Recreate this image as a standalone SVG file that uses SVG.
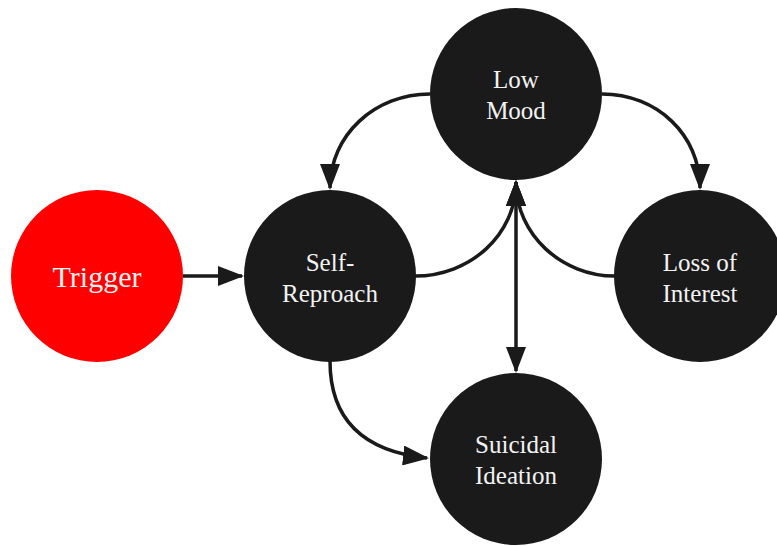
<svg xmlns="http://www.w3.org/2000/svg" width="777" height="546" viewBox="0 0 777 546">
<style>
.node{fill:#1a1a1a}
.trig{fill:#ff0000}
.lbl{font-family:"Liberation Serif","DejaVu Serif",serif;font-size:25px;fill:#f2f2f2;text-anchor:middle}
.edge{fill:none;stroke:#1a1a1a;stroke-width:3.5}
</style>
<defs>
<marker id="ah" markerUnits="userSpaceOnUse" markerWidth="26" markerHeight="20" viewBox="0 0 26 20" refX="24" refY="10" orient="auto-start-reverse">
<path d="M0,0 L26,10 L0,20 z" fill="#1a1a1a"/>
</marker>
</defs>
<rect width="777" height="546" fill="#ffffff"/>
<g id="connectors">
<path class="edge" d="M183,276 L242,276" marker-end="url(#ah)"/>
<path class="edge" d="M430,94 C375,94 330,135 330,188" marker-end="url(#ah)"/>
<path class="edge" d="M602,94 C657,94 700,135 700,188" marker-end="url(#ah)"/>
<path class="edge" d="M415,276 C470,276 516,235 516,182" marker-end="url(#ah)"/>
<path class="edge" d="M615,276 C562,276 516,235 516,182" marker-end="url(#ah)"/>
<path class="edge" d="M516,182 L516,371" marker-start="url(#ah)" marker-end="url(#ah)"/>
<path class="edge" d="M330,361 C330,425 370,452 427,458" marker-end="url(#ah)"/>
</g>
<g id="trigger">
<circle class="trig" cx="97" cy="276" r="86"/>
<text class="lbl" x="97" y="287" style="font-size:30px">Trigger</text>
</g>
<g id="self-reproach">
<circle class="node" cx="330" cy="276" r="86"/>
<text class="lbl" x="330" y="271">Self-</text>
<text class="lbl" x="330" y="302">Reproach</text>
</g>
<g id="low-mood">
<circle class="node" cx="516" cy="94" r="86"/>
<text class="lbl" x="516" y="88">Low</text>
<text class="lbl" x="516" y="119">Mood</text>
</g>
<g id="loss-of-interest">
<circle class="node" cx="700" cy="276" r="86"/>
<text class="lbl" x="700" y="271">Loss of</text>
<text class="lbl" x="700" y="302">Interest</text>
</g>
<g id="suicidal-ideation">
<circle class="node" cx="516" cy="459" r="86"/>
<text class="lbl" x="516" y="453">Suicidal</text>
<text class="lbl" x="516" y="484">Ideation</text>
</g>
</svg>
